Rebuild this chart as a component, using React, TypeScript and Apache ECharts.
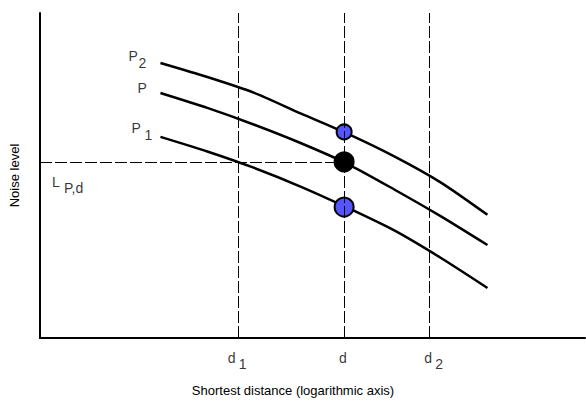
import React, { useEffect, useRef } from "react";
import * as echarts from "echarts";

// Shared x positions of the sampled curve points (arbitrary log-distance units)
const curveX = [22.1, 30.7, 39.2, 47.8, 56.4, 65.0, 73.5, 82.1];
// Noise level curves (arbitrary level units)
const curveP2 = [84.6, 80.3, 75.5, 69.1, 62.9, 55.9, 47.9, 37.9];
const curveP = [75.4, 70.8, 65.7, 60.0, 53.6, 45.7, 37.5, 28.6];
const curveP1 = [61.9, 57.4, 52.4, 46.6, 40.1, 33.1, 24.7, 15.4];
// Reference distances d1, d, d2
const dNames = ["d1", "d", "d2"];
const dValues = [36.3, 55.8, 71.4];
// Levels of the three curves at distance d (P2, P = L_P,d, P1)
const levelsAtD = [63.4, 54.2, 40.3];
const LPd = levelsAtD[1];
const xTitle = "Shortest distance (logarithmic axis)";
const yTitle = "Noise level";

const FONT = "'Liberation Sans', Arial, sans-serif";

export default function App() {
  const ref = useRef<HTMLDivElement>(null);

  useEffect(() => {
    if (!ref.current) return;
    const chart = echarts.init(ref.current, undefined, { renderer: "svg" });
    const D = dValues[1];

    const toPairs = (ys: number[]) => curveX.map((x, i) => [x, ys[i]]);

    const lab = (value: number[], text: string, offset: number[]) => ({
      value,
      label: {
        show: true,
        formatter: text,
        offset,
        fontSize: 14,
        color: "#000",
        fontFamily: FONT,
        position: "inside",
        align: "left",
        verticalAlign: "top",
      },
    });

    const labels = [
      lab([curveX[0], curveP2[0]], "P", [-32, -14]),
      lab([curveX[0], curveP2[0]], "2", [-22, -7]),
      lab([curveX[0], curveP[0]], "P", [-23, -12]),
      lab([curveX[0], curveP1[0]], "P", [-29, -16]),
      lab([curveX[0], curveP1[0]], "1", [-16, -9]),
      lab([0, LPd], "L", [12, 13]),
      lab([0, LPd], "P,d", [24, 19]),
      lab([dValues[0], 0], "d", [-10, 13]),
      lab([dValues[0], 0], "1", [1, 19]),
      lab([dValues[1], 0], "d", [-5, 13]),
      lab([dValues[2], 0], "d", [-5, 13]),
      lab([dValues[2], 0], "2", [6, 19]),
    ];

    const curveLine = (name: string, ys: number[]) => ({
      name,
      type: "line",
      data: toPairs(ys),
      smooth: 0.25,
      symbol: "none",
      z: 2,
      silent: true,
      lineStyle: { color: "#000", width: 2.5 },
    });

    chart.setOption({
      animation: false,
      title: {
        text: xTitle,
        left: "center",
        top: 379,
        textStyle: { fontSize: 13, fontWeight: "normal", color: "#000", fontFamily: FONT },
      },
      grid: { left: 37, right: 1, top: 13, bottom: 63, containLabel: false },
      xAxis: {
        type: "value",
        min: 0,
        max: 100,
        axisLine: { show: true, lineStyle: { color: "#000", width: 2 } },
        axisTick: { show: false },
        axisLabel: { show: false },
        splitLine: { show: false },
      },
      yAxis: {
        type: "value",
        min: 0,
        max: 100,
        name: yTitle,
        nameLocation: "middle",
        nameGap: 19,
        nameTextStyle: { fontSize: 13, color: "#000", fontFamily: FONT },
        axisLine: { show: true, lineStyle: { color: "#000", width: 2 } },
        axisTick: { show: false },
        axisLabel: { show: false },
        splitLine: { show: false },
      },
      series: [
        {
          name: "guides",
          type: "line",
          data: [],
          z: 1,
          markLine: {
            silent: true,
            symbol: "none",
            label: { show: false },
            lineStyle: { color: "#000", width: 1, type: [12, 3] },
            data: [
              ...dValues.map((v, i) => ({ name: dNames[i], xAxis: v })),
              [{ coord: [0, LPd] }, { coord: [D, LPd] }],
            ],
          },
        },
        curveLine("P2", curveP2),
        curveLine("P", curveP),
        curveLine("P1", curveP1),
        {
          name: "points",
          type: "scatter",
          z: 3,
          silent: true,
          data: [
            { value: [D, levelsAtD[0]], symbolSize: 15, itemStyle: { color: "#5555ff" } },
            { value: [D, levelsAtD[1]], symbolSize: 19, itemStyle: { color: "#000" } },
            { value: [D, levelsAtD[2]], symbolSize: 19, itemStyle: { color: "#5555ff" } },
          ],
          itemStyle: { borderColor: "#000", borderWidth: 2, opacity: 1 },
        },
        {
          name: "labels",
          type: "scatter",
          z: 4,
          silent: true,
          clip: false,
          symbolSize: 1,
          itemStyle: { color: "transparent" },
          label: {
            show: true,
            position: "inside",
            align: "left",
            verticalAlign: "top",
            color: "#000",
            fontSize: 14,
            fontFamily: FONT,
          },
          data: labels,
        },
      ],
    });

    return () => chart.dispose();
  }, []);

  return (
    <div
      ref={ref}
      style={{ position: "fixed", left: 0, top: 0, width: 586, height: 401, background: "#fff" }}
    />
  );
}
